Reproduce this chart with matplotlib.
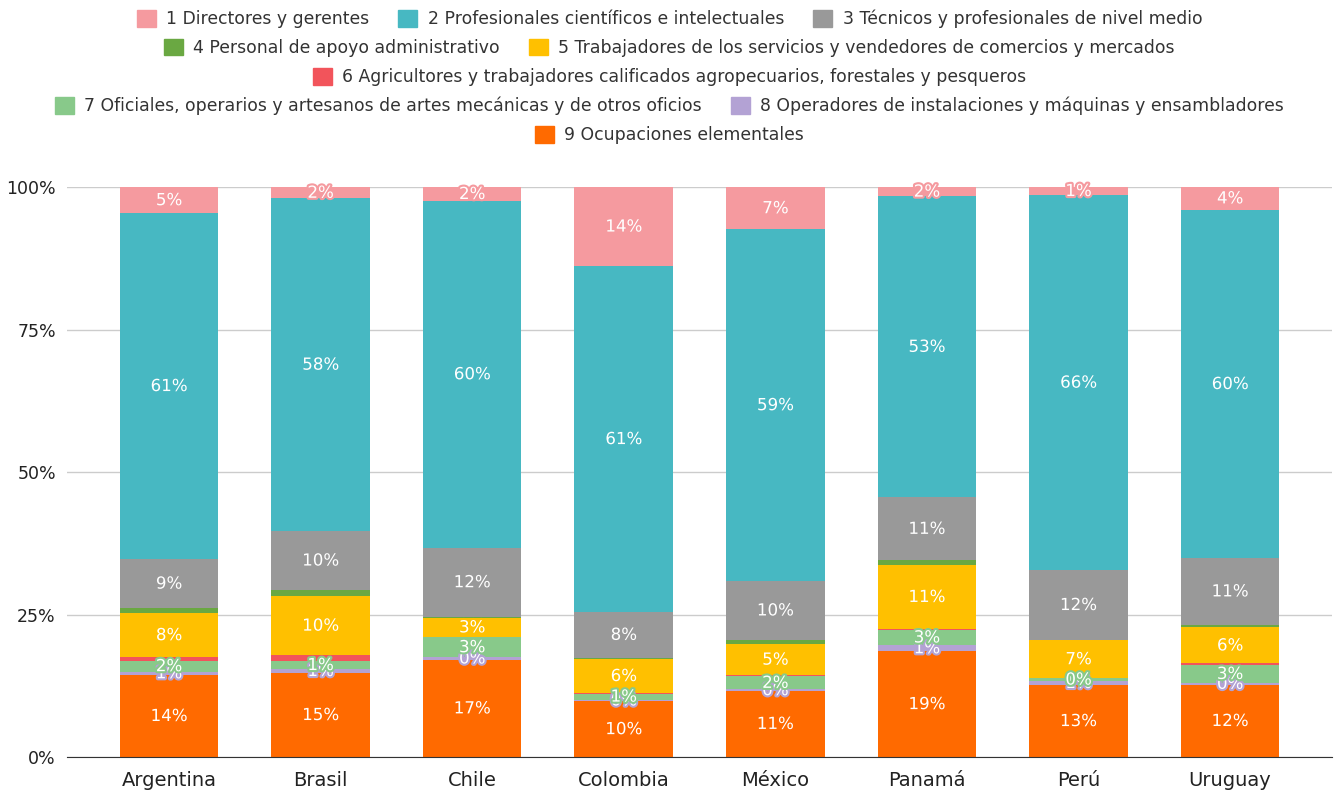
import numpy as np
import matplotlib
matplotlib.use("Agg")
import matplotlib.pyplot as plt
import matplotlib.patheffects as pe
from matplotlib.patches import Patch

# países
paises = ["Argentina", "Brasil", "Chile", "Colombia", "México", "Panamá", "Perú", "Uruguay"]

# grupos ocupacionales (orden de la leyenda)
grupos = [
    "1 Directores y gerentes",
    "2 Profesionales científicos e intelectuales",
    "3 Técnicos y profesionales de nivel medio",
    "4 Personal de apoyo administrativo",
    "5 Trabajadores de los servicios y vendedores de comercios y mercados",
    "6 Agricultores y trabajadores calificados agropecuarios, forestales y pesqueros",
    "7 Oficiales, operarios y artesanos de artes mecánicas y de otros oficios",
    "8 Operadores de instalaciones y máquinas y ensambladores",
    "9 Ocupaciones elementales",
]
colores = ["#F59A9F", "#47B8C2", "#999999", "#6AA842", "#FFC000",
           "#F2545B", "#88C98A", "#B3A2D4", "#FF6A00"]

# participación (%) por país, un arreglo por grupo
g1 = [4.6, 2.0, 2.4, 13.9, 7.1, 1.6, 1.4, 3.9]
g2 = [60.7, 58.2, 59.9, 60.9, 59.0, 53.0, 65.8, 60.0]
g3 = [8.7, 10.4, 12.0, 8.0, 9.9, 11.05, 12.2, 11.4]
g4 = [0.8, 1.0, 0.2, 0.2, 0.7, 0.75, 0.1, 0.5]
g5 = [7.8, 10.4, 3.2, 6.1, 5.2, 11.4, 6.6, 6.2]
g6 = [0.6, 1.0, 0.1, 0.05, 0.2, 0.05, 0.05, 0.3]
g7 = [1.9, 1.4, 3.45, 1.05, 2.2, 2.75, 0.45, 3.0]
g8 = [0.6, 0.7, 0.45, 0.3, 0.24, 1.05, 0.75, 0.4]
g9 = [14.4, 14.7, 16.8, 9.8, 11.1, 18.6, 12.6, 12.4]

valores = np.array([g1, g2, g3, g4, g5, g6, g7, g8, g9])
con_etiqueta = [True, True, True, False, True, False, True, True, True]

# 100% apilado
frac = valores / valores.sum(axis=0)

fig = plt.figure(figsize=(13.39, 7.96), dpi=100)
ax = fig.add_axes([0.050, 0.049, 0.9448, 0.716])

x = np.arange(len(paises))
base = np.zeros(len(paises))
for i in range(8, -1, -1):
    ax.bar(x, frac[i], 0.65, bottom=base, color=colores[i], zorder=2)
    if con_etiqueta[i]:
        for j in range(len(paises)):
            ax.text(x[j], base[j] + frac[i][j] / 2, f"{valores[i][j]:.0f}%",
                    ha="center", va="center", color="white", fontsize=12, zorder=3,
                    path_effects=[pe.Stroke(linewidth=3, foreground=colores[i]), pe.Normal()])
    base += frac[i]

ax.set_xlim(-0.673, 7.673)
ax.set_ylim(0, 1)
ax.set_yticks([0, 0.25, 0.5, 0.75, 1])
ax.set_yticklabels(["0%", "25%", "50%", "75%", "100%"], fontsize=12.5, color="#222222")
ax.set_xticks(x)
ax.set_xticklabels(paises, fontsize=14, color="#222222")
ax.tick_params(length=0, pad=8)
ax.tick_params(axis="x", pad=10)
ax.grid(axis="y", color="#CCCCCC", linewidth=1, zorder=0)
for s in ["top", "right", "left"]:
    ax.spines[s].set_visible(False)
ax.spines["bottom"].set_color("#333333")
ax.spines["bottom"].set_zorder(4)

# leyenda en filas centradas
filas = [[0, 1, 2], [3, 4], [5], [6, 7], [8]]
ys = [0.976, 0.940, 0.903, 0.867, 0.830]
for fila, yy in zip(filas, ys):
    handles = [Patch(facecolor=colores[k], edgecolor=colores[k]) for k in fila]
    fig.legend(handles, [grupos[k] for k in fila], loc="center", bbox_to_anchor=(0.5, yy),
               ncol=len(fila), frameon=False, fontsize=12.4, handlelength=1.1, handleheight=1.1,
               handletextpad=0.6, columnspacing=1.7, borderaxespad=0, borderpad=0,
               labelcolor="#333333")

fig.savefig("out.png", dpi=100)
